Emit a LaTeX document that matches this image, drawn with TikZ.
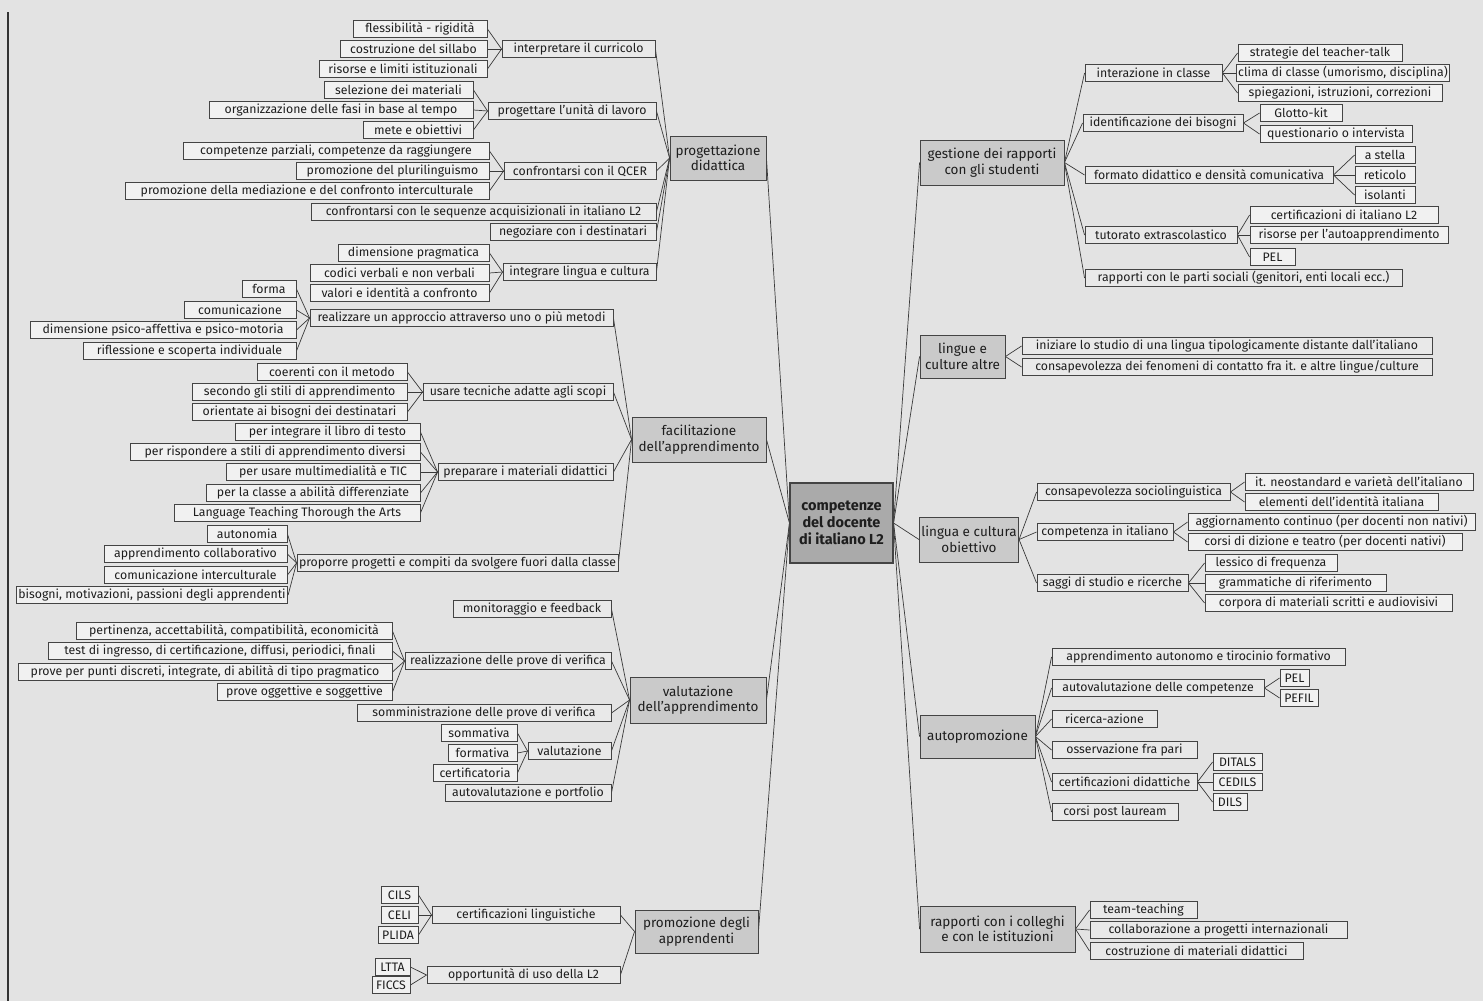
\documentclass[tikz,border=0pt]{standalone}
\usepackage{fontspec}
\setmainfont{Fira Sans}
\pgfdeclarelayer{paperlayer}
\pgfdeclarelayer{wires}
\pgfsetlayers{paperlayer,wires,main}

\definecolor{paper}{HTML}{E3E3E3}
\definecolor{leaffill}{HTML}{F1F1F1}
\definecolor{subfill}{HTML}{E9E9E9}
\definecolor{catfill}{HTML}{CACACA}
\definecolor{hubfill}{HTML}{AAAAAA}
\definecolor{boxline}{HTML}{444444}
\definecolor{wireink}{HTML}{3A3A3A}
\definecolor{ink}{HTML}{1E1E1E}
\definecolor{rulecol}{HTML}{333333}

\tikzset{
  basebox/.style={draw=boxline, line width=0.9pt, inner xsep=2pt, inner ysep=0.3pt,
    minimum height=17pt, text=ink, anchor=center,
    font=\fontsize{12.3}{13.5}\selectfont},
  leafbox/.style={basebox, fill=leaffill},
  subbox/.style={basebox, fill=subfill},
  catbox/.style={basebox, fill=catfill, align=center,
    font=\fontsize{13.5}{15.5}\selectfont},
  hubbox/.style={catbox, fill=hubfill, line width=1.1pt,
    font=\fontsize{14.5}{17}\selectfont\bfseries},
  wire/.style={draw=wireink, line width=0.7pt},
}

% box given by left edge, right edge and vertical centre
\newcommand\bx[6][leafbox]{\node[#1, minimum width={(#4-#3)*1pt}] (#2) at ({(#3+#4)/2},#5) {#6};}
% box given by left, right, top and bottom edges
\newcommand\gx[7][catbox]{\node[#1, minimum width={(#4-#3)*1pt}, minimum height={(#6-#5)*1pt}] (#2) at ({(#3+#4)/2},{(#5+#6)/2}) {#7};}
% connector from the east side of one box to the west side of another
\newcommand\lnk[2]{\draw[wire] (#1.east) -- (#2.west);}

\begin{document}
\begin{tikzpicture}[x=1pt,y=-1pt]
\begin{pgfonlayer}{paperlayer}
  \fill[paper] (0,0) rectangle (1483,1001);
  \draw[rulecol, line width=1.6pt] (8,12) -- (8,1001);
\end{pgfonlayer}
\useasboundingbox (0,0) rectangle (1483,1001);

% ---------- centre ----------
\gx[hubbox]{hub}{790}{893}{483}{563}{competenze\\del docente\\di italiano L2}

% ---------- progettazione didattica ----------
\gx{prog}{670}{766}{136}{180}{progettazione\\didattica}
\bx{flex}{353}{487}{29}{flessibilità - rigidità}
\bx{sill}{340}{487}{49}{costruzione del sillabo}
\bx{riso}{319}{487}{69}{risorse e limiti istituzionali}
\bx[subbox]{curr}{502}{655}{49}{interpretare il curricolo}
\bx{sele}{324}{473}{90}{selezione dei materiali}
\bx{orga}{209}{473}{110}{organizzazione delle fasi in base al tempo}
\bx{mete}{363}{473}{130}{mete e obiettivi}
\bx[subbox]{unit}{488}{656}{111}{progettare l’unità di lavoro}
\bx{parz}{183}{489}{151}{competenze parziali, competenze da raggiungere}
\bx{plur}{296}{489}{171}{promozione del plurilinguismo}
\bx{medi}{125}{489}{191}{promozione della mediazione e del confronto interculturale}
\bx[subbox]{qcer}{504}{656}{171}{confrontarsi con il QCER}
\bx[subbox]{sequ}{311}{656}{212}{confrontarsi con le sequenze acquisizionali in italiano L2}
\bx[subbox]{nego}{490}{656}{232}{negoziare con i destinatari}
\bx{prag}{338}{489}{253}{dimensione pragmatica}
\bx{codi}{310}{489}{273}{codici verbali e non verbali}
\bx{valo}{310}{489}{293}{valori e identità a confronto}
\bx[subbox]{inte}{503}{656}{272}{integrare lingua e cultura}

% ---------- facilitazione dell'apprendimento ----------
\gx{faci}{632}{766}{417}{462}{facilitazione\\dell’apprendimento}
\bx{form}{242}{296}{289}{forma}
\bx{comu}{184}{296}{310}{comunicazione}
\bx{psic}{30}{296}{330}{dimensione psico-affettiva e psico-motoria}
\bx{rifl}{83}{296}{351}{riflessione e scoperta individuale}
\bx[subbox]{meto}{310}{613}{318}{realizzare un approccio attraverso uno o più metodi}
\bx{coer}{257}{407}{372}{coerenti con il metodo}
\bx{stil}{192}{407}{392}{secondo gli stili di apprendimento}
\bx{orie}{192}{407}{412}{orientate ai bisogni dei destinatari}
\bx[subbox]{tecn}{423}{613}{392}{usare tecniche adatte agli scopi}
\bx{libr}{235}{420}{432}{per integrare il libro di testo}
\bx{risp}{130}{420}{452}{per rispondere a stili di apprendimento diversi}
\bx{mult}{226}{420}{472}{per usare multimedialità e TIC}
\bx{diff}{206}{420}{493}{per la classe a abilità differenziate}
\bx{arts}{174}{420}{513}{Language Teaching Thorough the Arts}
\bx[subbox]{mate}{438}{613}{472}{preparare i materiali didattici}
\bx{auto}{207}{287}{534}{autonomia}
\bx{coll}{104}{287}{554}{apprendimento collaborativo}
\bx{intc}{104}{287}{575}{comunicazione interculturale}
\bx{biso}{17}{287}{595}{bisogni, motivazioni, passioni degli apprendenti}
\bx[subbox]{prop}{302}{613}{563}{proporre progetti e compiti da svolgere fuori dalla classe}

% ---------- valutazione dell'apprendimento ----------
\gx{valu}{630}{766}{677}{723}{valutazione\\dell’apprendimento}
\bx[subbox]{moni}{453}{611}{609}{monitoraggio e feedback}
\bx{pert}{76}{392}{631}{pertinenza, accettabilità, compatibilità, economicità}
\bx{test}{48}{392}{651}{test di ingresso, di certificazione, diffusi, periodici, finali}
\bx{punt}{18}{392}{672}{prove per punti discreti, integrate, di abilità di tipo pragmatico}
\bx{ogge}{217}{392}{692}{prove oggettive e soggettive}
\bx[subbox]{real}{405}{611}{661}{realizzazione delle prove di verifica}
\bx[subbox]{somm}{357}{611}{713}{somministrazione delle prove di verifica}
\bx{somv}{441}{517}{733}{sommativa}
\bx{fmtv}{448}{517}{753}{formativa}
\bx{cert}{433}{517}{773}{certificatoria}
\bx[subbox]{valz}{528}{611}{751}{valutazione}
\bx[subbox]{port}{445}{611}{793}{autovalutazione e portfolio}

% ---------- promozione degli apprendenti ----------
\gx{prom}{635}{758}{910}{953}{promozione degli\\apprendenti}
\bx{cils}{381}{418}{895}{CILS}
\bx{celi}{381}{418}{915}{CELI}
\bx{plid}{378}{418}{935}{PLIDA}
\bx[subbox]{ling}{432}{620}{915}{certificazioni linguistiche}
\bx{ltta}{375}{410}{967}{LTTA}
\bx{ficc}{372}{410}{985}{FICCS}
\bx[subbox]{oppo}{427}{620}{975}{opportunità di uso della L2}

% ---------- gestione dei rapporti con gli studenti ----------
\gx{gest}{920}{1064}{140}{185}{gestione dei rapporti\\con gli studenti}
\bx[subbox]{inter}{1085}{1222}{73}{interazione in classe}
\bx{teac}{1238}{1402}{53}{strategie del teacher-talk}
\bx{clim}{1238}{1448}{73}{clima di classe (umorismo, disciplina)}
\bx{spie}{1238}{1442}{93}{spiegazioni, istruzioni, correzioni}
\bx[subbox]{iden}{1083}{1243}{123}{identificazione dei bisogni}
\bx{glot}{1260}{1342}{113}{Glotto-kit}
\bx{ques}{1260}{1412}{134}{questionario o intervista}
\bx[subbox]{fmt}{1085}{1333}{175}{formato didattico e densità comunicativa}
\bx{stel}{1355}{1415}{155}{a stella}
\bx{reti}{1355}{1415}{175}{reticolo}
\bx{isol}{1355}{1415}{195}{isolanti}
\bx[subbox]{tuto}{1085}{1237}{235}{tutorato extrascolastico}
\bx{citl}{1250}{1438}{215}{certificazioni di italiano L2}
\bx{auap}{1250}{1448}{235}{risorse per l’autoapprendimento}
\bx{pelA}{1250}{1295}{257}{PEL}
\bx[subbox]{parti}{1085}{1402}{278}{rapporti con le parti sociali (genitori, enti locali ecc.)}

% ---------- lingue e culture altre ----------
\gx{altr}{920}{1005}{335}{378}{lingue e\\culture altre}
\bx[subbox]{inizi}{1022}{1432}{346}{iniziare lo studio di una lingua tipologicamente distante dall’italiano}
\bx[subbox]{cont}{1022}{1432}{367}{consapevolezza dei fenomeni di contatto fra it. e altre lingue/culture}

% ---------- lingua e cultura obiettivo ----------
\gx{obie}{920}{1018}{517}{562}{lingua e cultura\\obiettivo}
\bx[subbox]{soci}{1037}{1230}{492}{consapevolezza sociolinguistica}
\bx{neos}{1245}{1473}{482}{it. neostandard e varietà dell’italiano}
\bx{idit}{1245}{1438}{502}{elementi dell’identità italiana}
\bx[subbox]{comp}{1037}{1173}{532}{competenza in italiano}
\bx{aggi}{1188}{1475}{522}{aggiornamento continuo (per docenti non nativi)}
\bx{dizi}{1188}{1462}{542}{corsi di dizione e teatro (per docenti nativi)}
\bx[subbox]{sagg}{1037}{1188}{583}{saggi di studio e ricerche}
\bx{less}{1205}{1337}{563}{lessico di frequenza}
\bx{gram}{1205}{1386}{583}{grammatiche di riferimento}
\bx{corp}{1205}{1452}{603}{corpora di materiali scritti e audiovisivi}

% ---------- autopromozione ----------
\gx{autp}{920}{1035}{715}{758}{autopromozione}
\bx[subbox]{tiro}{1052}{1345}{657}{apprendimento autonomo e tirocinio formativo}
\bx[subbox]{avc}{1052}{1264}{688}{autovalutazione delle competenze}
\bx{pelB}{1280}{1309}{678}{PEL}
\bx{pefi}{1280}{1318}{698}{PEFIL}
\bx[subbox]{rica}{1052}{1157}{719}{ricerca-azione}
\bx[subbox]{osse}{1052}{1197}{750}{osservazione fra pari}
\bx[subbox]{cdid}{1052}{1197}{782}{certificazioni didattiche}
\bx{dita}{1213}{1262}{762}{DITALS}
\bx{cedi}{1213}{1262}{782}{CEDILS}
\bx{dils}{1213}{1247}{802}{DILS}
\bx[subbox]{post}{1052}{1178}{812}{corsi post lauream}

% ---------- rapporti con i colleghi ----------
\gx{colg}{920}{1075}{906}{952}{rapporti con i colleghi\\e con le istituzioni}
\bx[subbox]{team}{1090}{1197}{910}{team-teaching}
\bx[subbox]{intp}{1090}{1347}{930}{collaborazione a progetti internazionali}
\bx[subbox]{cmat}{1090}{1303}{951}{costruzione di materiali didattici}

% ---------- connectors ----------
\begin{pgfonlayer}{wires}
  % left half: child east -> parent west
  \foreach \c in {flex,sill,riso} {\lnk{\c}{curr}}
  \foreach \c in {sele,orga,mete} {\lnk{\c}{unit}}
  \foreach \c in {parz,plur,medi} {\lnk{\c}{qcer}}
  \foreach \c in {prag,codi,valo} {\lnk{\c}{inte}}
  \foreach \c in {curr,unit,qcer,sequ,nego,inte} {\lnk{\c}{prog}}
  \foreach \c in {form,comu,psic,rifl} {\lnk{\c}{meto}}
  \foreach \c in {coer,stil,orie} {\lnk{\c}{tecn}}
  \foreach \c in {libr,risp,mult,diff,arts} {\lnk{\c}{mate}}
  \foreach \c in {auto,coll,intc,biso} {\lnk{\c}{prop}}
  \foreach \c in {meto,tecn,mate,prop} {\lnk{\c}{faci}}
  \foreach \c in {pert,test,punt,ogge} {\lnk{\c}{real}}
  \foreach \c in {somv,fmtv,cert} {\lnk{\c}{valz}}
  \foreach \c in {moni,real,somm,valz,port} {\lnk{\c}{valu}}
  \foreach \c in {cils,celi,plid} {\lnk{\c}{ling}}
  \foreach \c in {ltta,ficc} {\lnk{\c}{oppo}}
  \foreach \c in {ling,oppo} {\lnk{\c}{prom}}
  \foreach \c in {prog,faci,valu,prom} {\lnk{\c}{hub}}
  % right half: parent east -> child west
  \foreach \c in {gest,altr,obie,autp,colg} {\lnk{hub}{\c}}
  \foreach \c in {inter,iden,fmt,tuto,parti} {\lnk{gest}{\c}}
  \foreach \c in {teac,clim,spie} {\lnk{inter}{\c}}
  \foreach \c in {glot,ques} {\lnk{iden}{\c}}
  \foreach \c in {stel,reti,isol} {\lnk{fmt}{\c}}
  \foreach \c in {citl,auap,pelA} {\lnk{tuto}{\c}}
  \foreach \c in {inizi,cont} {\lnk{altr}{\c}}
  \foreach \c in {soci,comp,sagg} {\lnk{obie}{\c}}
  \foreach \c in {neos,idit} {\lnk{soci}{\c}}
  \foreach \c in {aggi,dizi} {\lnk{comp}{\c}}
  \foreach \c in {less,gram,corp} {\lnk{sagg}{\c}}
  \foreach \c in {tiro,avc,rica,osse,cdid,post} {\lnk{autp}{\c}}
  \foreach \c in {pelB,pefi} {\lnk{avc}{\c}}
  \foreach \c in {dita,cedi,dils} {\lnk{cdid}{\c}}
  \foreach \c in {team,intp,cmat} {\lnk{colg}{\c}}
\end{pgfonlayer}
\end{tikzpicture}
\end{document}
